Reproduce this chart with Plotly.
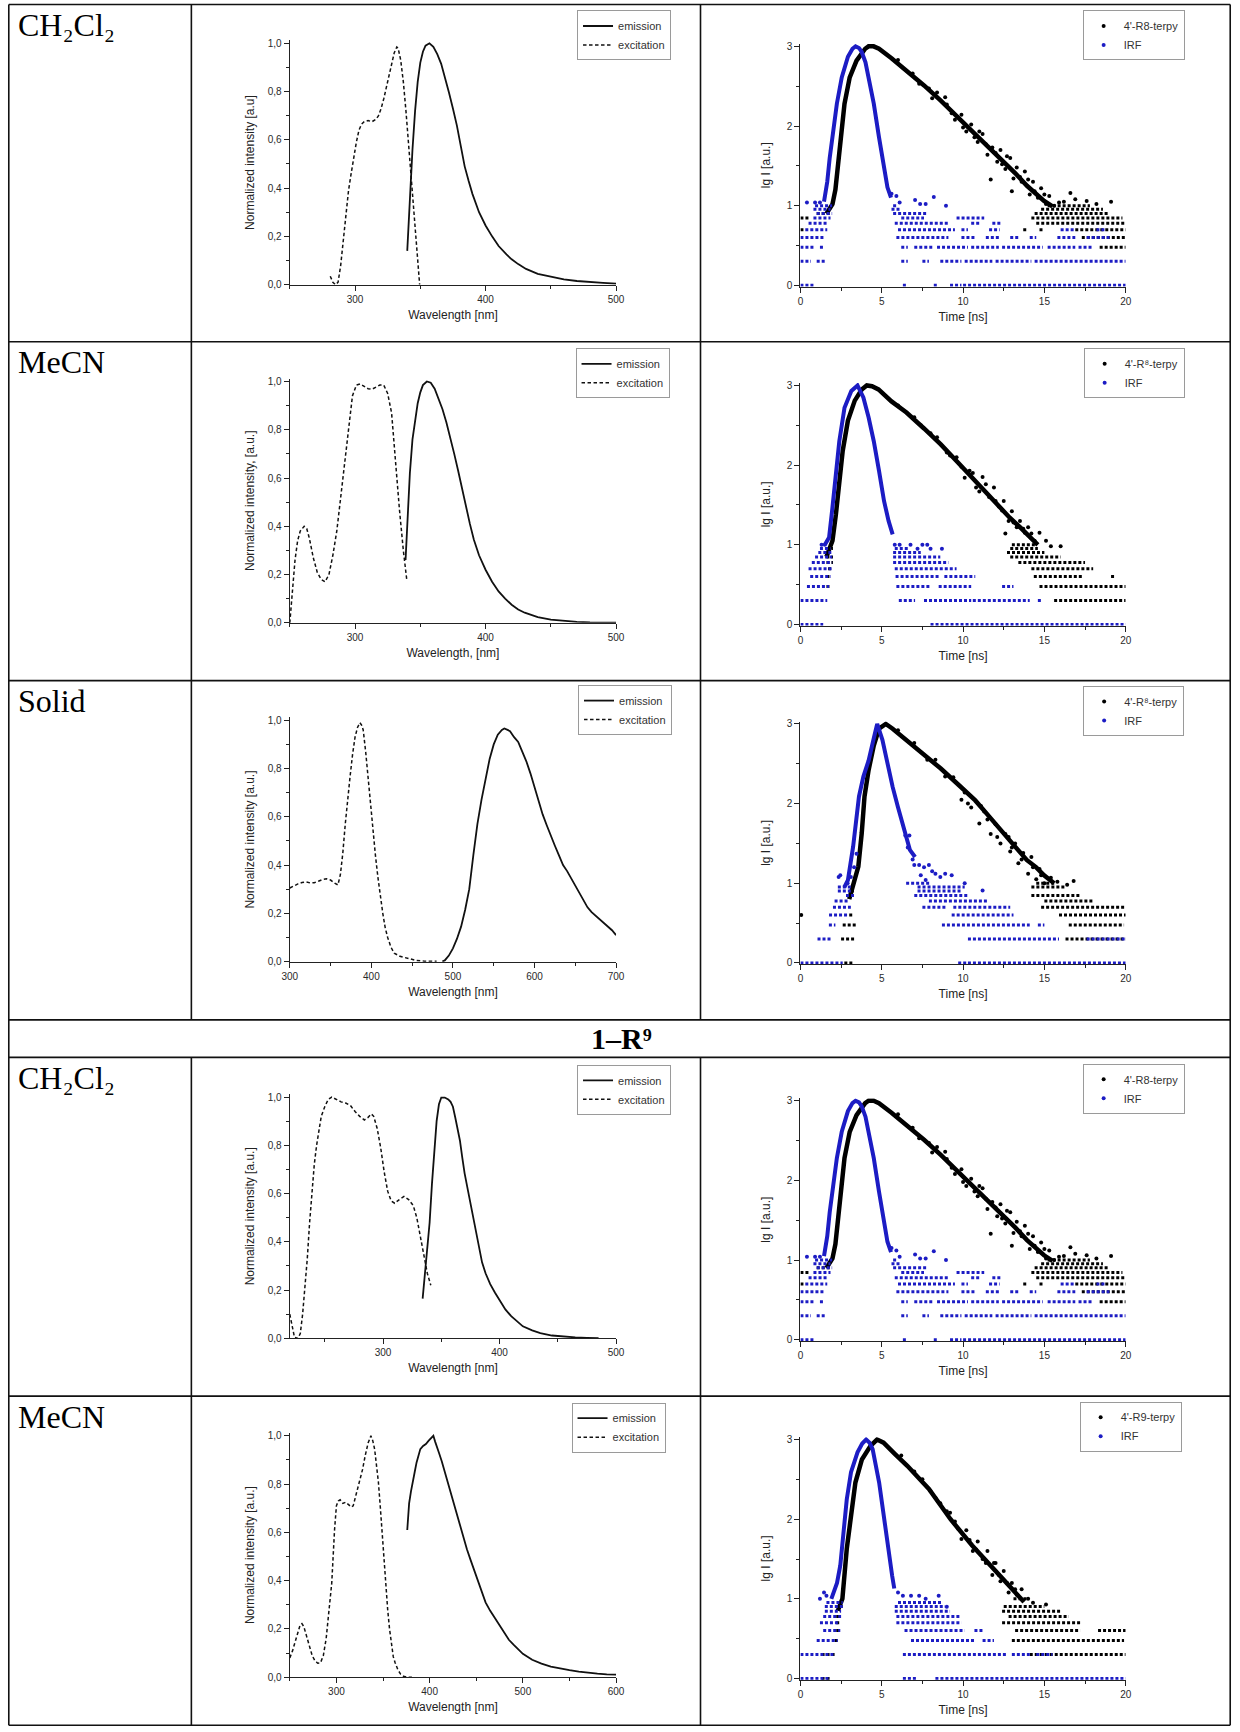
import plotly.graph_objects as go

W, H = 1240, 1732
# Calibration of figure pixels -> photographed pixels (small padding/scale added by the page capture).
CAL_X0, CAL_SX = 7.5, 0.987
CAL_Y0, CAL_SY = 3.5, 0.9954
SANS = "Liberation Sans, Arial, sans-serif"
SERIF = "Liberation Serif, Times New Roman, serif"
BLUE = "#1c1cc4"
BLACK = "#111111"

# ---------------- steady-state spectra (wavelength nm, normalized intensity) ----------------
R1_EXC_NM = [281, 283, 285, 287, 289, 291, 293, 295, 297, 299, 301, 303, 305, 307, 310, 313, 316, 318, 320, 322,
             324, 326, 328, 330, 332, 333, 335, 337, 339, 341, 343, 345, 347, 349, 349.5]
R1_EXC_I = [0.035, 0.01, 0.0, 0.01, 0.08, 0.19, 0.30, 0.39, 0.46, 0.53, 0.59, 0.64, 0.665, 0.675, 0.68, 0.675, 0.685,
            0.70, 0.73, 0.77, 0.82, 0.87, 0.92, 0.96, 0.985, 0.98, 0.93, 0.84, 0.72, 0.58, 0.44, 0.30, 0.15, 0.02, 0.0]
R1_EMI_NM = [340, 342, 344, 346, 348, 350, 352, 354, 357, 360, 363, 366, 369, 372, 375, 378, 381, 384, 387, 390,
             395, 400, 405, 410, 416, 420, 425, 431, 440, 452, 460, 470, 480, 490, 500]
R1_EMI_I = [0.14, 0.36, 0.56, 0.72, 0.84, 0.92, 0.965, 0.99, 1.0, 0.985, 0.955, 0.915, 0.86, 0.795, 0.73, 0.66, 0.575,
            0.49, 0.43, 0.375, 0.30, 0.245, 0.20, 0.16, 0.125, 0.105, 0.085, 0.065, 0.045, 0.03, 0.022, 0.015, 0.01,
            0.007, 0.004]

R2_EXC_NM = [250, 252, 254, 256, 258, 261, 263, 265, 268, 271, 274, 277, 280, 283, 286, 289, 292, 295, 298, 301,
             304, 307, 310, 313, 316, 319, 322, 325, 328, 331, 334, 337, 339.7]
R2_EXC_I = [0.0, 0.13, 0.26, 0.34, 0.38, 0.40, 0.39, 0.35, 0.27, 0.21, 0.18, 0.17, 0.20, 0.28, 0.38, 0.52, 0.66, 0.82,
            0.94, 0.985, 0.99, 0.98, 0.97, 0.968, 0.975, 0.985, 0.985, 0.95, 0.87, 0.65, 0.47, 0.30, 0.175]
R2_EMI_NM = [338.7, 340, 342, 344, 346, 348, 350, 352, 355, 358, 361, 364, 367, 370, 373, 376, 379, 382, 385, 388,
             391, 395, 400, 405, 410, 415, 420, 425, 430, 440, 450, 460, 470, 480, 490, 500]
R2_EMI_I = [0.26, 0.42, 0.62, 0.76, 0.84, 0.91, 0.955, 0.985, 1.0, 0.995, 0.97, 0.925, 0.885, 0.83, 0.77, 0.70, 0.63,
            0.555, 0.478, 0.41, 0.345, 0.28, 0.22, 0.17, 0.13, 0.10, 0.075, 0.055, 0.042, 0.024, 0.013, 0.007, 0.004,
            0.002, 0.001, 0.001]

R3_EXC_NM = [300, 305, 310, 315, 320, 325, 330, 335, 340, 345, 350, 355, 359, 362, 365, 368, 371, 374, 377, 380,
             383, 386, 388, 390, 393, 396, 399, 402, 405, 408, 411, 414, 417, 420, 424, 428, 435, 445, 455, 465, 480]
R3_EXC_I = [0.305, 0.315, 0.322, 0.328, 0.330, 0.326, 0.327, 0.333, 0.340, 0.343, 0.338, 0.325, 0.318, 0.36, 0.45,
            0.57, 0.68, 0.77, 0.86, 0.93, 0.97, 0.99, 0.98, 0.96, 0.87, 0.76, 0.65, 0.53, 0.44, 0.35, 0.27, 0.20,
            0.14, 0.10, 0.06, 0.035, 0.022, 0.012, 0.005, 0.002, 0.002]
R3_EMI_NM = [487, 490, 495, 500, 505, 510, 515, 520, 525, 530, 535, 540, 545, 550, 555, 560, 563, 567, 570, 575,
             580, 585, 590, 595, 600, 605, 610, 615, 620, 625, 630, 635, 640, 645, 650, 655, 660, 665, 670, 675,
             680, 685, 690, 695, 700]
R3_EMI_I = [0.0, 0.005, 0.025, 0.055, 0.095, 0.145, 0.215, 0.30, 0.44, 0.57, 0.67, 0.76, 0.84, 0.90, 0.94, 0.96,
            0.966, 0.96, 0.955, 0.93, 0.91, 0.87, 0.83, 0.78, 0.72, 0.66, 0.61, 0.565, 0.52, 0.48, 0.44, 0.40,
            0.375, 0.345, 0.315, 0.29, 0.258, 0.225, 0.205, 0.19, 0.172, 0.16, 0.145, 0.13, 0.11]

R4_EXC_NM = [220, 222, 224, 227, 229, 231, 233, 235, 237, 239, 241, 243, 245, 247, 250, 253, 256, 260, 264, 268,
             272, 276, 280, 284, 287, 290, 292, 295, 298, 301, 304, 307, 310, 314, 318, 322, 326, 329, 332, 335,
             338, 341]
R4_EXC_I = [0.10, 0.05, 0.005, 0.0, 0.02, 0.10, 0.20, 0.33, 0.48, 0.61, 0.72, 0.80, 0.87, 0.92, 0.96, 0.99, 1.0,
            0.99, 0.98, 0.975, 0.965, 0.94, 0.92, 0.905, 0.915, 0.93, 0.92, 0.87, 0.79, 0.69, 0.61, 0.57, 0.56,
            0.575, 0.588, 0.575, 0.55, 0.50, 0.42, 0.34, 0.27, 0.22]
R4_EMI_NM = [334, 336, 338, 340, 342, 344, 346, 348, 350, 353, 356, 358, 360, 362, 364, 366, 368, 370, 373, 376,
             379, 382, 385, 388, 392, 396, 400, 405, 410, 415, 420, 428, 435, 445, 455, 465, 475, 485]
R4_EMI_I = [0.165, 0.28, 0.38, 0.48, 0.64, 0.77, 0.90, 0.97, 0.998, 0.998, 0.99, 0.98, 0.96, 0.915, 0.87, 0.82,
            0.75, 0.685, 0.61, 0.535, 0.45, 0.375, 0.315, 0.27, 0.225, 0.19, 0.158, 0.12, 0.092, 0.07, 0.05,
            0.033, 0.022, 0.012, 0.007, 0.004, 0.002, 0.001]

R5_EXC_NM = [250, 253, 256, 259, 261, 263, 265, 268, 271, 274, 277, 280, 283, 286, 289, 292, 295, 298, 300, 302,
             304, 307, 310, 313, 316, 318, 320, 322, 325, 328, 331, 334, 337, 339, 341, 343, 345, 347, 349, 351,
             353, 355, 357, 359, 361, 363, 366, 369, 372, 376, 381]
R5_EXC_I = [0.08, 0.11, 0.15, 0.19, 0.215, 0.222, 0.21, 0.17, 0.125, 0.09, 0.068, 0.058, 0.06, 0.09, 0.16, 0.27,
            0.39, 0.61, 0.71, 0.73, 0.735, 0.72, 0.725, 0.715, 0.705, 0.71, 0.74, 0.76, 0.81, 0.86, 0.92, 0.97,
            1.0, 0.98, 0.945, 0.88, 0.81, 0.71, 0.60, 0.48, 0.37, 0.28, 0.20, 0.13, 0.085, 0.06, 0.03, 0.012,
            0.004, 0.0, 0.0]
R5_EMI_NM = [376, 378, 380, 382, 384, 386, 388, 390, 393, 396, 399, 402, 404, 406, 408, 410, 413, 416, 419, 422,
             425, 428, 431, 434, 437, 440, 444, 448, 452, 456, 460, 465, 470, 475, 480, 485, 490, 495, 500, 510,
             520, 530, 540, 550, 560, 570, 580, 590, 600]
R5_EMI_I = [0.61, 0.72, 0.77, 0.82, 0.85, 0.89, 0.92, 0.945, 0.958, 0.966, 0.98, 0.99, 1.0, 0.975, 0.955, 0.93,
            0.895, 0.855, 0.81, 0.77, 0.73, 0.69, 0.645, 0.605, 0.565, 0.53, 0.485, 0.44, 0.393, 0.35, 0.31,
            0.275, 0.245, 0.21, 0.18, 0.155, 0.135, 0.115, 0.097, 0.072, 0.056, 0.044, 0.035, 0.029, 0.023,
            0.018, 0.015, 0.012, 0.011]

# ---------------- decay curves (time ns, lg I) ----------------
# dense part of each decay (read along the centre of the point cloud)
D1_BLK_T = [1.6, 1.97, 2.15, 2.29, 2.5, 2.71, 3.03, 3.45, 3.98, 4.19, 4.5, 4.83, 5.6, 6.52, 7.6, 8.63, 9.7, 10.75,
            11.6, 12.44, 13.2, 13.93, 14.5, 14.98, 15.5]
D1_BLK_Y = [0.9, 1.02, 1.2, 1.44, 1.86, 2.28, 2.61, 2.82, 2.97, 3.0, 3.0, 2.97, 2.85, 2.70, 2.51, 2.32, 2.11, 1.90,
            1.74, 1.57, 1.41, 1.25, 1.15, 1.06, 0.99]
D1_BLU_T = [1.45, 1.65, 1.8, 1.97, 2.24, 2.54, 2.92, 3.2, 3.39, 3.6, 3.77, 4.0, 4.19, 4.51, 4.83, 5.14, 5.35, 5.57]
D1_BLU_Y = [1.05, 1.3, 1.6, 1.86, 2.28, 2.61, 2.87, 2.97, 3.0, 2.98, 2.93, 2.8, 2.61, 2.28, 1.86, 1.48, 1.23, 1.10]
# scattered single points
D1_BLK_NT = [8.4, 9.0, 9.5, 9.9, 10.2, 10.5, 10.9, 11.2, 11.5, 11.7, 11.8, 12.1, 12.3, 12.6, 12.9, 13.0, 13.1, 13.3,
             13.6, 13.8, 14.1, 14.3, 14.6, 14.8, 15.1, 15.3, 15.9, 16.6, 16.9, 17.6, 18.2, 19.1,
             6.0, 6.9, 7.3, 7.9, 8.1, 8.9, 9.3, 10.0, 10.7, 11.0, 11.4, 12.0, 12.4, 12.7, 13.5, 14.0, 14.4, 15.0,
             15.6, 16.2]
D1_BLK_NY = [2.42, 2.27, 2.08, 2.14, 1.93, 2.02, 1.80, 1.90, 1.64, 1.33, 1.73, 1.55, 1.70, 1.46, 1.60, 1.18, 1.34,
             1.48, 1.30, 1.43, 1.14, 1.30, 1.10, 1.22, 1.02, 1.12, 1.04, 1.16, 1.08, 1.06, 1.02, 1.05,
             2.83, 2.66, 2.53, 2.47, 2.35, 2.36, 2.16, 1.98, 1.86, 1.93, 1.77, 1.66, 1.52, 1.62, 1.36, 1.33, 1.18,
             1.14, 1.00, 1.05]
D1_BLU_NT = [0.4, 0.9, 1.2, 5.6, 5.9, 6.1, 7.05, 7.36, 7.7, 8.2, 8.95]
D1_BLU_NY = [1.04, 1.04, 1.04, 1.15, 1.12, 1.04, 1.07, 1.02, 1.02, 1.11, 1.0]
# quantised low-count rows: (lg I level, t start, t end)
D1_BLK_RUNS = [(0.845, 0.0, 0.6), (0.699, 0.0, 0.2), (0.903, 1.0, 1.9), (0.477, 18.4, 20.0), (0.602, 17.3, 20.0),
               (0.699, 16.9, 20.0), (0.699, 14.7, 15.0), (0.699, 13.7, 13.9), (0.778, 14.5, 20.0),
               (0.845, 14.2, 19.8), (0.903, 14.4, 19.0), (0.954, 14.8, 18.6), (1.0, 15.2, 17.8)]
D1_BLU_RUNS = [(0.0, 0.0, 0.9), (0.0, 6.3, 6.5), (0.0, 8.2, 8.4), (0.0, 9.2, 9.9), (0.0, 10.0, 20.0),
               (0.301, 0.0, 0.65), (0.301, 1.0, 1.55), (0.301, 6.2, 6.6), (0.301, 7.5, 7.9), (0.301, 8.6, 9.9),
               (0.301, 10.1, 11.8), (0.301, 12.0, 14.2), (0.301, 14.4, 20.0),
               (0.477, 0.0, 0.85), (0.477, 1.2, 1.5), (0.477, 6.2, 6.6), (0.477, 7.0, 8.2), (0.477, 8.4, 10.3),
               (0.477, 10.5, 12.2), (0.477, 12.4, 14.9), (0.477, 15.2, 16.9), (0.477, 17.1, 18.0),
               (0.602, 0.0, 1.5), (0.602, 5.9, 9.1), (0.602, 9.9, 10.75), (0.602, 11.4, 12.25),
               (0.602, 12.9, 13.5), (0.602, 14.1, 14.5), (0.602, 15.8, 16.9), (0.602, 17.6, 19.0),
               (0.699, 0.3, 1.65), (0.699, 6.0, 9.5), (0.699, 9.9, 10.3), (0.699, 11.6, 12.25),
               (0.699, 16.0, 16.9), (0.699, 18.2, 18.8),
               (0.778, 0.5, 1.65), (0.778, 5.8, 9.1), (0.778, 10.5, 11.1), (0.778, 11.8, 12.3),
               (0.845, 0.8, 1.85), (0.845, 6.2, 7.6), (0.845, 9.6, 11.3),
               (0.903, 1.0, 1.95), (0.903, 5.7, 7.8), (0.954, 0.8, 1.85), (0.954, 5.6, 6.2),
               (1.0, 0.9, 1.95), (1.0, 5.7, 6.0)]

D2_BLK_T = [1.6, 1.97, 2.18, 2.39, 2.6, 2.92, 3.34, 3.77, 4.08, 4.4, 4.8, 5.6, 6.52, 7.6, 8.63, 9.7, 10.75, 11.8,
            12.87, 13.5, 14.14, 14.6]
D2_BLK_Y = [0.85, 1.05, 1.38, 1.76, 2.18, 2.56, 2.81, 2.95, 3.0, 2.99, 2.95, 2.80, 2.66, 2.46, 2.26, 2.03, 1.80,
            1.57, 1.34, 1.22, 1.09, 1.0]
D2_BLU_T = [1.5, 1.76, 1.97, 2.18, 2.39, 2.71, 3.13, 3.51, 3.87, 4.19, 4.51, 4.83, 5.14, 5.42, 5.67]
D2_BLU_Y = [1.0, 1.09, 1.47, 1.89, 2.30, 2.72, 2.93, 3.0, 2.85, 2.6, 2.30, 1.93, 1.55, 1.30, 1.13]
D2_BLK_NT = [9.2, 9.9, 10.4, 10.8, 11.2, 11.6, 11.9, 12.2, 12.5, 12.6, 12.8, 13.0, 13.3, 13.5, 13.8, 14.0, 14.4,
             14.7, 15.1, 15.4, 16.0,
             6.0, 7.0, 7.4, 8.0, 8.4, 9.0, 9.6, 10.1, 10.6, 11.0, 11.4, 12.0, 12.4, 13.1, 13.7, 14.2]
D2_BLK_NY = [2.12, 1.98, 1.93, 1.72, 1.85, 1.60, 1.72, 1.48, 1.55, 1.14, 1.30, 1.42, 1.22, 1.30, 1.15, 1.22, 1.05,
             1.15, 1.05, 0.98, 0.98,
             2.75, 2.60, 2.50, 2.40, 2.35, 2.16, 2.10, 1.84, 1.90, 1.67, 1.76, 1.55, 1.43, 1.28, 1.20, 1.14]
D2_BLU_NT = [1.3, 1.5, 5.8, 6.1, 6.77, 7.2, 7.5, 7.8, 8.0, 8.7]
D2_BLU_NY = [1.0, 1.0, 1.0, 1.0, 1.0, 0.95, 1.0, 1.0, 0.95, 0.95]
D2_BLK_RUNS = [(0.954, 1.6, 2.0), (0.845, 1.6, 2.0), (0.778, 1.6, 2.0), (0.699, 1.7, 2.0), (0.602, 1.6, 1.9),
               (0.477, 1.6, 1.8), (0.301, 15.6, 20.0), (0.477, 14.7, 20.0), (0.602, 14.35, 17.4),
               (0.602, 19.1, 19.3), (0.699, 14.2, 18.0), (0.778, 13.4, 17.5), (0.845, 12.9, 16.0),
               (0.903, 12.7, 15.0), (0.954, 12.9, 14.6), (1.0, 13.0, 14.5)]
D2_BLU_RUNS = [(0.0, 0.0, 1.4), (0.0, 8.0, 20.0),
               (0.301, 0.0, 1.65), (0.301, 6.05, 7.05), (0.301, 7.6, 10.5), (0.301, 10.6, 14.1),
               (0.301, 14.6, 14.9),
               (0.477, 0.4, 1.76), (0.477, 5.9, 8.0), (0.477, 8.5, 10.5), (0.477, 12.4, 13.1),
               (0.602, 0.6, 1.86), (0.602, 5.85, 8.6), (0.602, 8.85, 10.75),
               (0.699, 0.5, 1.95), (0.699, 5.8, 9.6), (0.778, 0.7, 1.95), (0.778, 5.7, 9.1),
               (0.845, 0.9, 1.95), (0.845, 5.7, 8.6), (0.903, 1.1, 1.95), (0.903, 5.7, 7.4),
               (0.954, 1.2, 1.85), (0.954, 5.8, 6.6)]

D3_BLK_T = [3.0, 3.24, 3.56, 3.77, 3.94, 4.19, 4.51, 4.83, 5.25, 5.67, 6.52, 7.6, 8.63, 9.7, 10.75, 11.6, 12.44,
            13.2, 13.93, 14.5, 14.98, 15.6]
D3_BLK_Y = [0.8, 0.96, 1.21, 1.63, 2.09, 2.42, 2.73, 2.94, 3.0, 2.94, 2.80, 2.62, 2.44, 2.24, 2.04, 1.84, 1.63,
            1.46, 1.29, 1.20, 1.10, 1.0]
D3_BLU_T = [2.7, 2.92, 3.24, 3.45, 3.6, 3.87, 4.19, 4.51, 4.72, 5.04, 5.35, 5.67, 5.99, 6.31, 6.52, 6.73, 7.05]
D3_BLU_Y = [0.95, 1.04, 1.46, 1.79, 2.09, 2.34, 2.54, 2.82, 3.0, 2.8, 2.5, 2.21, 1.96, 1.71, 1.54, 1.42, 1.33]
D3_BLK_NT = [9.9, 10.5, 11.0, 11.3, 11.7, 12.0, 12.3, 12.6, 12.9, 13.2, 13.4, 13.7, 14.0, 14.2, 14.5, 14.7, 15.0,
             15.4, 15.8, 16.4, 16.8, 0.05,
             6.0, 7.0, 7.8, 8.3, 8.9, 9.4, 10.1, 10.3, 11.1, 11.5, 12.1, 12.8, 13.0, 13.6, 14.3, 14.8]
D3_BLK_NY = [2.05, 1.95, 1.75, 1.9, 1.62, 1.74, 1.5, 1.62, 1.4, 1.5, 1.25, 1.38, 1.12, 1.33, 1.05, 1.18, 1.0,
             1.07, 1.02, 0.98, 1.03, 0.602,
             2.92, 2.76, 2.55, 2.55, 2.34, 2.33, 2.14, 2.00, 1.97, 1.80, 1.58, 1.58, 1.45, 1.30, 1.20, 1.10]
D3_BLU_NT = [2.35, 2.45, 2.9, 3.1, 3.3, 3.45, 6.45, 6.7, 6.6, 6.9, 7.0, 7.3, 7.6, 7.9, 8.1, 8.3, 8.6, 8.9, 9.3,
             7.4, 7.7, 10.1, 11.2]
D3_BLU_NY = [1.08, 1.1, 1.0, 1.08, 1.2, 1.37, 1.6, 1.6, 1.45, 1.3, 1.23, 1.23, 1.2, 1.23, 1.15, 1.12, 1.08, 1.12,
             1.1, 1.1, 1.04, 1.0, 0.91]
D3_BLK_RUNS = [(0.0, 2.7, 3.3), (0.301, 2.5, 3.3), (0.301, 16.3, 20.0), (0.477, 2.6, 3.4), (0.477, 16.5, 19.9),
               (0.602, 3.0, 3.3), (0.602, 15.9, 20.0), (0.699, 14.8, 20.0), (0.778, 15.0, 18.0),
               (0.845, 14.2, 17.2), (0.903, 3.1, 3.4), (0.954, 14.2, 16.3), (1.0, 14.5, 15.7)]
D3_BLU_RUNS = [(0.0, 0.0, 2.6), (0.0, 9.7, 10.2), (0.0, 10.3, 20.0),
               (0.301, 1.05, 1.85), (0.301, 10.3, 15.9), (0.301, 17.6, 20.0),
               (0.477, 1.75, 2.15), (0.477, 8.7, 14.1), (0.477, 14.6, 15.0),
               (0.602, 1.76, 2.9), (0.602, 9.3, 13.1),
               (0.699, 2.0, 3.1), (0.699, 7.5, 9.0), (0.699, 9.4, 12.9),
               (0.778, 2.1, 3.0), (0.778, 7.9, 11.5), (0.845, 2.8, 3.3), (0.845, 7.0, 10.3),
               (0.903, 2.3, 3.2), (0.903, 7.2, 9.9), (0.954, 2.3, 3.1), (0.954, 7.2, 10.1), (1.0, 6.5, 8.0)]

D5_BLK_T = [2.3, 2.58, 2.85, 3.11, 3.38, 3.78, 4.31, 4.71, 5.11, 5.8, 6.57, 7.9, 9.23, 10.56, 11.89, 12.95, 13.75]
D5_BLK_Y = [0.85, 1.0, 1.63, 2.04, 2.46, 2.75, 2.92, 3.0, 2.96, 2.82, 2.67, 2.38, 2.0, 1.67, 1.38, 1.13, 0.96]
D5_BLU_T = [1.9, 2.25, 2.45, 2.63, 2.85, 3.11, 3.51, 3.8, 4.04, 4.25, 4.44, 4.84, 5.11, 5.37, 5.64, 5.77]
D5_BLU_Y = [1.0, 1.2, 1.42, 1.84, 2.25, 2.59, 2.84, 2.95, 3.0, 2.96, 2.88, 2.46, 2.04, 1.63, 1.29, 1.13]
D5_BLK_NT = [8.6, 9.0, 9.5, 9.9, 10.2, 10.6, 10.9, 11.2, 11.5, 11.8, 12.0, 12.3, 12.5, 12.8, 13.0, 13.3, 13.6,
             14.0, 14.3, 15.1,
             6.2, 7.0, 7.5, 8.0, 8.3, 9.2, 9.7, 10.4, 10.8, 11.4, 11.9, 12.2, 12.7, 13.2]
D5_BLK_NY = [2.2, 2.1, 1.97, 1.75, 1.86, 1.6, 1.72, 1.5, 1.6, 1.3, 1.45, 1.22, 1.35, 1.08, 1.2, 1.05, 1.12, 1.0,
             0.95, 0.93,
             2.80, 2.60, 2.50, 2.35, 2.27, 2.08, 1.88, 1.74, 1.62, 1.45, 1.45, 1.30, 1.20, 1.12]
D5_BLU_NT = [1.2, 1.45, 1.6, 6.0, 6.3, 6.8, 7.3, 7.7, 8.5, 9.0]
D5_BLU_NY = [1.0, 1.08, 1.04, 1.08, 1.04, 1.04, 1.04, 1.0, 1.04, 0.9]
D5_BLK_RUNS = [(0.0, 1.3, 1.8), (0.301, 1.3, 2.2), (0.477, 2.1, 2.4), (0.602, 2.2, 2.5), (0.699, 2.2, 2.5),
               (0.778, 2.2, 2.5), (0.903, 2.2, 2.6), (0.301, 14.1, 20.0), (0.477, 13.0, 19.9),
               (0.602, 13.2, 17.2), (0.602, 18.3, 20.0), (0.699, 12.4, 17.2), (0.778, 12.8, 16.5),
               (0.845, 12.4, 16.0), (0.903, 12.5, 15.0), (1.0, 13.1, 14.0)]
D5_BLU_RUNS = [(0.0, 0.0, 1.8), (0.0, 6.3, 7.1), (0.0, 8.3, 20.0),
               (0.301, 0.0, 2.05), (0.301, 6.3, 12.7), (0.301, 13.0, 14.1), (0.301, 14.5, 15.5),
               (0.477, 1.0, 2.3), (0.477, 6.8, 10.7), (0.477, 11.2, 11.9),
               (0.602, 1.4, 2.45), (0.602, 6.4, 10.1), (0.602, 10.7, 11.3),
               (0.699, 1.2, 2.3), (0.699, 5.9, 9.9), (0.778, 1.4, 2.5), (0.778, 5.9, 9.8),
               (0.845, 1.5, 2.5), (0.845, 5.8, 9.2), (0.903, 1.5, 2.6), (0.903, 5.8, 8.9),
               (0.954, 1.6, 2.6), (0.954, 6.0, 8.7)]

# ---------------- table text ----------------
ROW_LABELS = ["CH₂Cl₂", "MeCN", "Solid", "CH₂Cl₂", "MeCN"]
HEADER = "<b>1–R⁹</b>"
EM_YTITLES = ["Normalized intensity [a.u]", "Normalized intensity, [a.u.]", "Normalized intensity [a.u.]",
              "Normalized intensity [a.u.]", "Normalized intensity [a.u.]"]
EM_XTITLES = ["Wavelength [nm]", "Wavelength, [nm]", "Wavelength [nm]", "Wavelength [nm]", "Wavelength [nm]"]
DEC_NAMES = ["4'-R8-terpy", "4'-R⁸-terpy", "4'-R⁸-terpy", "4'-R8-terpy", "4'-R9-terpy"]
EM_XRANGES = [[250, 500], [250, 500], [300, 700], [220, 500], [250, 600]]

SPECTRA = [(R1_EXC_NM, R1_EXC_I, R1_EMI_NM, R1_EMI_I), (R2_EXC_NM, R2_EXC_I, R2_EMI_NM, R2_EMI_I),
           (R3_EXC_NM, R3_EXC_I, R3_EMI_NM, R3_EMI_I), (R4_EXC_NM, R4_EXC_I, R4_EMI_NM, R4_EMI_I),
           (R5_EXC_NM, R5_EXC_I, R5_EMI_NM, R5_EMI_I)]
D1 = (D1_BLK_T, D1_BLK_Y, D1_BLK_NT, D1_BLK_NY, D1_BLK_RUNS, D1_BLU_T, D1_BLU_Y, D1_BLU_NT, D1_BLU_NY, D1_BLU_RUNS)
D2 = (D2_BLK_T, D2_BLK_Y, D2_BLK_NT, D2_BLK_NY, D2_BLK_RUNS, D2_BLU_T, D2_BLU_Y, D2_BLU_NT, D2_BLU_NY, D2_BLU_RUNS)
D3 = (D3_BLK_T, D3_BLK_Y, D3_BLK_NT, D3_BLK_NY, D3_BLK_RUNS, D3_BLU_T, D3_BLU_Y, D3_BLU_NT, D3_BLU_NY, D3_BLU_RUNS)
D5 = (D5_BLK_T, D5_BLK_Y, D5_BLK_NT, D5_BLK_NY, D5_BLK_RUNS, D5_BLU_T, D5_BLU_Y, D5_BLU_NT, D5_BLU_NY, D5_BLU_RUNS)
DECAYS = [D1, D2, D3, D1, D5]   # rows 1 and 4 show the same measurement

# ---------------- layout geometry (target pixels in the photographed page) ----------------
ROW_TOPS = [5, 342.5, 681.5, 1058.5, 1397.5]
EM_X = (289.5, 616.0)
DEC_X = (800.5, 1126.0)
EM_ZERO = [285.3, 623.7, 962.7, 1339.7, 1678.7]
EM_UNIT = 241.5
EM_TOP = 1.012
DEC_ZERO = [286.0, 625.3, 964.0, 1341.0, 1680.0]
DEC_UNIT = 79.7
DEC_MIN, DEC_TOP = -0.015, 3.03
EM_LEG = [(671, 11), (669.5, 349), (672, 686), (671, 1066), (665.5, 1404)]
DEC_LEG = [(1185, 11), (1185, 349), (1184.5, 687), (1185, 1065), (1182, 1403)]


def px(x):
    f = (x - CAL_X0) / CAL_SX
    return min(max(f / W, 0.8 / W), 1 - 0.8 / W)


def py(y):
    f = (y - CAL_Y0) / CAL_SY
    return min(max(1 - f / H, 0.8 / H), 1 - 0.8 / H)


def runs_xy(runs):
    xs, ys = [], []
    for lvl, t0, t1 in runs:
        xs += [t0, t1, None]
        ys += [lvl, lvl, None]
    return xs, ys


def axis_style(**kw):
    d = dict(showline=True, linecolor="#222", linewidth=1.2, ticks="outside", ticklen=5, tickwidth=1.1,
             tickcolor="#222", showgrid=False, zeroline=False, mirror=False,
             tickfont=dict(family=SANS, size=10, color="#2a2a2a"),
             fixedrange=True)
    d.update(kw)
    return d


def minor(dt):
    return dict(ticks="outside", ticklen=3, tickwidth=1, tickcolor="#222", dtick=dt, showgrid=False)


TITLE_FONT = dict(family=SANS, size=12, color="#222")

fig = go.Figure()
layout = {}

for r in range(5):
    ke, kd = 2 * r + 1, 2 * r + 2
    xe = "x" if ke == 1 else f"x{ke}"
    ye = "y" if ke == 1 else f"y{ke}"
    xd, yd = f"x{kd}", f"y{kd}"
    leg_e = "legend" if r == 0 else f"legend{ke}"
    leg_d = f"legend{kd}"

    exc_nm, exc_i, emi_nm, emi_i = SPECTRA[r]
    fig.add_trace(go.Scatter(x=emi_nm, y=emi_i, mode="lines", name="emission",
                             line=dict(color=BLACK, width=1.8), xaxis=xe, yaxis=ye, legend=leg_e))
    fig.add_trace(go.Scatter(x=exc_nm, y=exc_i, mode="lines", name="excitation",
                             line=dict(color=BLACK, width=1.5, dash="3.5px,2.5px"), xaxis=xe, yaxis=ye,
                             legend=leg_e))

    (bt, by, bnt, bny, bruns, ut, uy, unt, uny, uruns) = DECAYS[r]
    for (t, y, nt, ny, runs, color, name, bw) in [(bt, by, bnt, bny, bruns, "#000000", DEC_NAMES[r], 4.5),
                                                  (ut, uy, unt, uny, uruns, BLUE, "IRF", 4.0)]:
        rx, ry = runs_xy(runs)
        fig.add_trace(go.Scatter(x=rx, y=ry, mode="lines", line=dict(color=color, width=3, dash="3px,2px"),
                                 xaxis=xd, yaxis=yd, showlegend=False, hoverinfo="skip", legend=leg_d))
        fig.add_trace(go.Scatter(x=t, y=y, mode="lines", line=dict(color=color, width=bw),
                                 xaxis=xd, yaxis=yd, showlegend=False, hoverinfo="skip", legend=leg_d))
        fig.add_trace(go.Scatter(x=nt, y=ny, mode="markers", name=name, marker=dict(color=color, size=4),
                                 xaxis=xd, yaxis=yd, legend=leg_d, cliponaxis=False))

    # axes
    ez = EM_ZERO[r]
    layout["xaxis" if ke == 1 else f"xaxis{ke}"] = axis_style(
        domain=[px(EM_X[0]), px(EM_X[1])], anchor=ye, range=EM_XRANGES[r], dtick=100, tick0=0, minor=minor(50),
        title=dict(text=EM_XTITLES[r], font=TITLE_FONT, standoff=6))
    layout["yaxis" if ke == 1 else f"yaxis{ke}"] = axis_style(
        domain=[py(ez), py(ez - EM_TOP * EM_UNIT)], anchor=xe, range=[0, EM_TOP], dtick=0.2, tick0=0,
        tickformat=".1f", minor=minor(0.1),
        title=dict(text=EM_YTITLES[r], font=TITLE_FONT, standoff=10))
    dz = DEC_ZERO[r]
    layout[f"xaxis{kd}"] = axis_style(
        domain=[px(DEC_X[0]), px(DEC_X[1])], anchor=yd, range=[0, 20], dtick=5, tick0=0, minor=minor(2.5),
        title=dict(text="Time [ns]", font=TITLE_FONT, standoff=6))
    layout[f"yaxis{kd}"] = axis_style(
        domain=[py(dz - DEC_MIN * DEC_UNIT), py(dz - DEC_TOP * DEC_UNIT)], anchor=xd, range=[DEC_MIN, DEC_TOP],
        dtick=1, tick0=0, minor=minor(0.5),
        title=dict(text="lg I [a.u.]", font=TITLE_FONT, standoff=13))

    # legends
    leg_common = dict(xanchor="right", yanchor="top", bgcolor="white", bordercolor="#9a9a9a", borderwidth=1,
                      font=dict(family=SANS, size=11, color="#333"), itemwidth=30, tracegroupgap=0)
    layout[leg_e] = dict(x=px(EM_LEG[r][0]), y=py(EM_LEG[r][1]), **leg_common)
    layout[leg_d] = dict(x=px(DEC_LEG[r][0]), y=py(DEC_LEG[r][1]), **leg_common)

# ---------------- table borders ----------------
X_L, X_C1, X_C2, X_R = 2.5, 191.0, 700.5, 1237.5
Y_T, Y_HDR_T, Y_HDR_B, Y_B = 5.0, 1021.0, 1058.5, 1729.0
H_LINES = [5.0, 342.5, 681.5, 1021.0, 1058.5, 1397.5, 1729.0]
shapes = []
for y in H_LINES:
    shapes.append(dict(type="line", xref="paper", yref="paper", x0=px(X_L), x1=px(X_R), y0=py(y), y1=py(y),
                       line=dict(color="#111", width=1.6)))
for x in (X_L, X_R):
    shapes.append(dict(type="line", xref="paper", yref="paper", x0=px(x), x1=px(x), y0=py(Y_T), y1=py(Y_B),
                       line=dict(color="#111", width=1.6)))
for x in (X_C1, X_C2):
    for (a, b) in ((Y_T, Y_HDR_T), (Y_HDR_B, Y_B)):
        shapes.append(dict(type="line", xref="paper", yref="paper", x0=px(x), x1=px(x), y0=py(a), y1=py(b),
                           line=dict(color="#111", width=1.6)))

annotations = []
for r in range(5):
    annotations.append(dict(text=ROW_LABELS[r], x=px(16), y=py(ROW_TOPS[r] + 0.5), xref="paper", yref="paper",
                            xanchor="left", yanchor="top", showarrow=False,
                            font=dict(family=SERIF, size=32, color="#000")))
annotations.append(dict(text=HEADER, x=px(621), y=py(1040), xref="paper", yref="paper", xanchor="center",
                        yanchor="middle", showarrow=False, font=dict(family=SERIF, size=30, color="#000")))

fig.update_layout(width=W, height=H, margin=dict(l=0, r=0, t=0, b=0), autosize=False,
                  paper_bgcolor="white", plot_bgcolor="white", separators=", ",
                  shapes=shapes, annotations=annotations, **layout)

fig.write_html("out.html", config={"displayModeBar": False},
               post_script="document.body.style.margin='0';document.body.style.overflow='hidden';")
